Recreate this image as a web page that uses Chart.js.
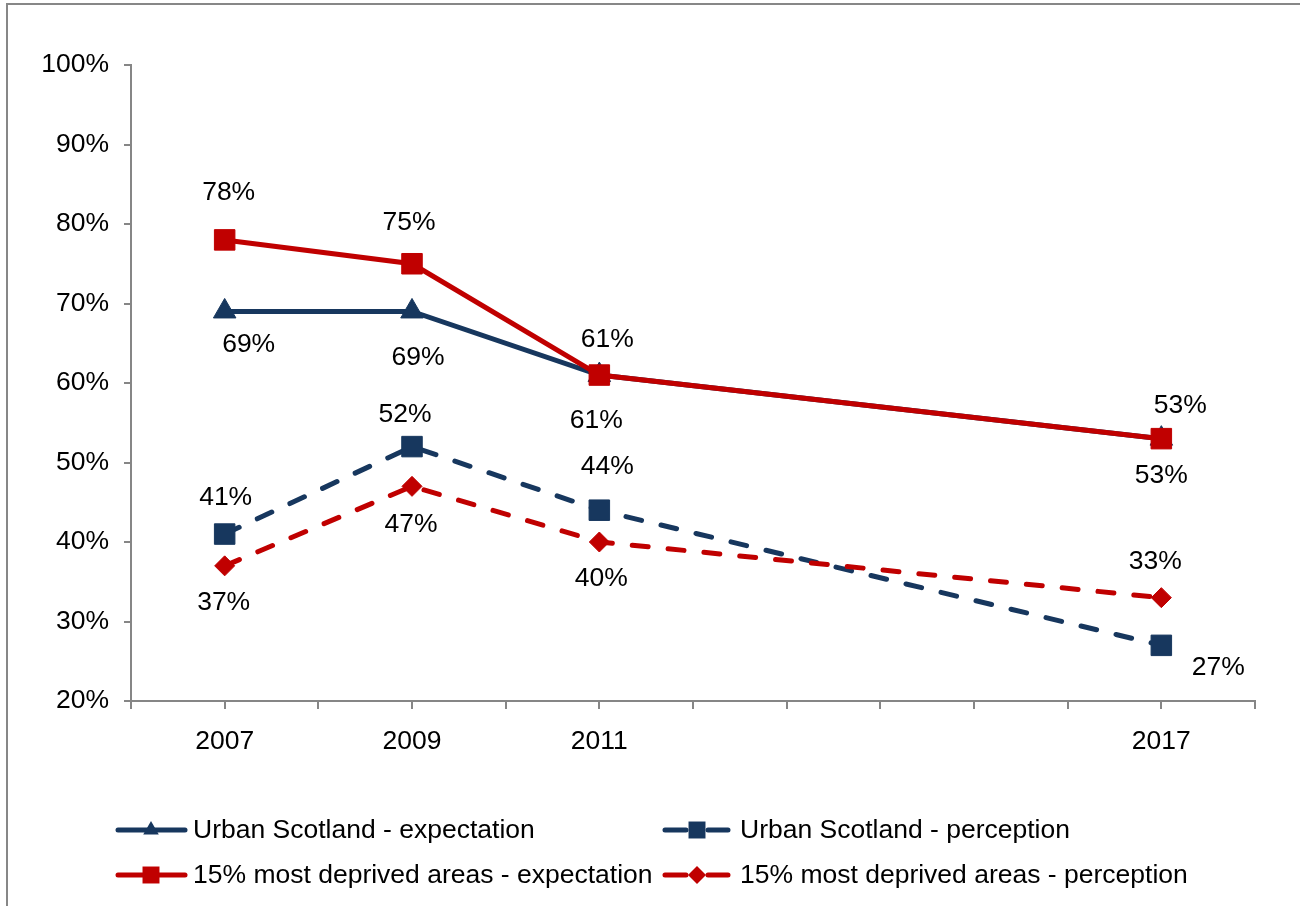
<!DOCTYPE html>
<html>
<head>
<meta charset="utf-8">
<script src="https://cdn.jsdelivr.net/npm/chart.js@4.4.1/dist/chart.umd.min.js"></script>
<style>
html, body { margin: 0; padding: 0; background: #fff; }
#wrap { width: 1300px; height: 906px; }
</style>
</head>
<body>
<div id="wrap"><canvas id="line_Trend" width="1300" height="906"></canvas></div>
<script>

const years = [2007, 2009, 2011, 2017];
const urbanExpectation = [69, 69, 61, 53];
const urbanPerception = [41, 52, 44, 27];
const deprivedExpectation = [78, 75, 61, 53];
const deprivedPerception = [37, 47, 40, 33];
const seriesNames = [
    "Urban Scotland - expectation",
    "Urban Scotland - perception",
    "15% most deprived areas - expectation",
    "15% most deprived areas - perception"
];

const BLUE = "#17375E";
const RED = "#C00000";
const GREY = "#868686";
const FONT = "'Liberation Sans', Arial, sans-serif";
const FSIZE = 26.5;

const toPoints = (vals) => vals.map((v, i) => ({ x: years[i], y: v }));

// where each value label sits relative to its point (px)
const labelShift = [
    [[24, 33], [6, 46], [-3, 46], [0, 37]],
    [[1, -36], [-7, -32], [8, -44], [57, 22]],
    [[4, -47], [-3, -41], [8, -35], [19, -33]],
    [[-1, 37], [-1, 38], [2, 37], [-6, -36]]
];

function marker(ctx, style, x, y, r, color) {
    ctx.save();
    ctx.fillStyle = color;
    ctx.beginPath();
    if (style === "triangle") {
        ctx.moveTo(x, y - r);
        ctx.lineTo(x + r * 0.866, y + r * 0.5);
        ctx.lineTo(x - r * 0.866, y + r * 0.5);
    } else if (style === "rect") {
        const s = r * Math.SQRT1_2;
        ctx.rect(x - s, y - s, 2 * s, 2 * s);
    } else {
        ctx.moveTo(x - r, y);
        ctx.lineTo(x, y - r);
        ctx.lineTo(x + r, y);
        ctx.lineTo(x, y + r);
    }
    ctx.closePath();
    ctx.fill();
    ctx.restore();
}

const framePlugin = {
    id: "frame",
    beforeDraw(chart) {
        const ctx = chart.ctx;
        ctx.save();
        ctx.fillStyle = "#fff";
        ctx.fillRect(0, 0, chart.width, chart.height);
        ctx.strokeStyle = "#878787";
        ctx.lineWidth = 2;
        ctx.strokeRect(7, 4, 1400, 1000);
        ctx.restore();
    }
};

const valueLabels = {
    id: "valueLabels",
    afterDatasetsDraw(chart) {
        const ctx = chart.ctx;
        ctx.save();
        ctx.font = FSIZE + "px " + FONT;
        ctx.fillStyle = "#000";
        ctx.textAlign = "center";
        ctx.textBaseline = "middle";
        chart.data.datasets.forEach((ds, di) => {
            const meta = chart.getDatasetMeta(di);
            meta.data.forEach((pt, i) => {
                const s = labelShift[di][i];
                ctx.fillText(ds.data[i].y + "%", pt.x + s[0], pt.y + s[1]);
            });
        });
        ctx.restore();
    }
};

const boxLegend = {
    id: "boxLegend",
    afterDraw(chart) {
        const ctx = chart.ctx;
        const spots = [[115, 830], [662, 830], [115, 875], [662, 875]];
        const markR = { triangle: 9, rect: 12, rectRot: 9 };
        ctx.save();
        chart.data.datasets.forEach((ds, di) => {
            const [x, y] = spots[di];
            ctx.strokeStyle = ds.borderColor;
            ctx.lineWidth = 5;
            ctx.lineCap = "round";
            ctx.beginPath();
            if (ds.borderDash) {
                ctx.moveTo(x + 3, y);
                ctx.lineTo(x + 24, y);
                ctx.moveTo(x + 46, y);
                ctx.lineTo(x + 66, y);
            } else {
                ctx.moveTo(x + 3, y);
                ctx.lineTo(x + 70, y);
            }
            ctx.stroke();
            const mx = ds.borderDash ? x + 35 : x + 36;
            marker(ctx, ds.pointStyle, mx, y, markR[ds.pointStyle], ds.borderColor);
            ctx.fillStyle = "#000";
            ctx.font = FSIZE + "px " + FONT;
            ctx.textBaseline = "middle";
            ctx.textAlign = "left";
            ctx.fillText(seriesNames[di], x + 78, y + 1);
        });
        ctx.restore();
    }
};

const config_Trend = {
    "type": "line",
    "data": {
        "datasets": [
            {
                "label": seriesNames[0],
                "data": toPoints(urbanExpectation),
                "borderColor": BLUE,
                "backgroundColor": BLUE,
                "pointStyle": "triangle",
                "pointRadius": 13,
                "order": 2
            },
            {
                "label": seriesNames[1],
                "data": toPoints(urbanPerception),
                "borderColor": BLUE,
                "backgroundColor": BLUE,
                "borderDash": [16, 20],
                "pointStyle": "rect",
                "pointRadius": 14.5,
                "order": 3
            },
            {
                "label": seriesNames[2],
                "data": toPoints(deprivedExpectation),
                "borderColor": RED,
                "backgroundColor": RED,
                "pointStyle": "rect",
                "pointRadius": 14.5,
                "order": 0
            },
            {
                "label": seriesNames[3],
                "data": toPoints(deprivedPerception),
                "borderColor": RED,
                "backgroundColor": RED,
                "borderDash": [16, 20],
                "pointStyle": "rectRot",
                "pointRadius": 10,
                "order": 1
            }
        ]
    },
    "options": {
        "responsive": false,
        "animation": false,
        "events": [],
        "elements": {
            "line": { "borderWidth": 5, "borderCapStyle": "round", "tension": 0, "fill": false },
            "point": { "borderWidth": 1 }
        },
        "layout": { "padding": { "left": 0, "right": 45, "top": 65, "bottom": 0 } },
        "plugins": {
            "legend": { "display": false },
            "tooltip": { "enabled": false }
        },
        "scales": {
            "x": {
                "type": "linear",
                "min": 2006,
                "max": 2018,
                "afterFit": (s) => { s.height = 205; },
                "afterBuildTicks": (s) => {
                    const t = [];
                    for (let v = 2006; v <= 2018; v++) t.push({ value: v });
                    s.ticks = t;
                },
                "grid": { "drawOnChartArea": false, "drawTicks": true, "tickLength": 8, "color": GREY, "lineWidth": 2 },
                "border": { "color": GREY, "width": 2 },
                "ticks": {
                    "autoSkip": false,
                    "maxRotation": 0,
                    "padding": 17,
                    "color": "#000",
                    "font": { "family": FONT, "size": FSIZE },
                    "callback": (v) => years.includes(v) ? String(v) : ""
                }
            },
            "y": {
                "min": 20,
                "max": 100,
                "afterFit": (s) => { s.width = 131; },
                "grid": { "drawOnChartArea": false, "drawTicks": true, "tickLength": 7, "color": GREY, "lineWidth": 2 },
                "border": { "color": GREY, "width": 2 },
                "ticks": {
                    "stepSize": 10,
                    "padding": 15,
                    "color": "#000",
                    "font": { "family": FONT, "size": FSIZE },
                    "callback": (v) => v + "%"
                }
            }
        }
    },
    "plugins": [framePlugin, valueLabels, boxLegend]
};

const ctx_Trend = document.getElementById("line_Trend").getContext('2d');

const myChart_Trend = new Chart(ctx_Trend, config_Trend);

</script>
</body>
</html>
